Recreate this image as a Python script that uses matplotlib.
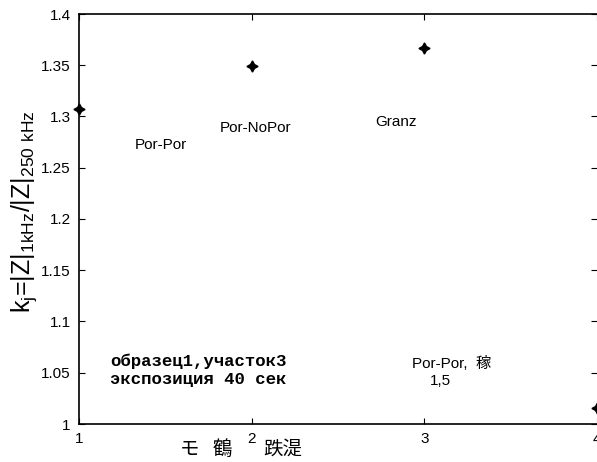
import matplotlib
matplotlib.use("Agg")
import matplotlib.pyplot as plt

plt.rcParams['font.family'] = ['Liberation Sans', 'Noto Sans CJK JP', 'DejaVu Sans']
plt.rcParams['mathtext.default'] = 'regular'

# measured k_j values for each sample zone
zone = [1, 2, 3, 4]
kj = [1.307, 1.349, 1.367, 1.016]

# text annotations placed inside the axes
notes = ["Por-Por", "Por-NoPor", "Granz"]
note_x = [1.475, 2.025, 2.835]
note_y = [1.272, 1.289, 1.295]

xticks = [1, 2, 3, 4]
yticks = [1.0, 1.05, 1.1, 1.15, 1.2, 1.25, 1.3, 1.35, 1.4]
ytick_labels = ["1", "1.05", "1.1", "1.15", "1.2", "1.25", "1.3", "1.35", "1.4"]

W, H = 597, 462
fig = plt.figure(figsize=(W / 100, H / 100), dpi=100)
ax = fig.add_axes([79 / W, 38 / H, 518 / W, 410 / H])

ax.plot(zone, kj, linestyle='none', marker=(4, 1, 0), markersize=8,
        color='black', clip_on=False)

for s, x, y in zip(notes, note_x, note_y):
    ax.text(x, y, s, ha='center', va='center', fontsize=11)

ax.text(3.157, 1.0595, "Por-Por,  稼", ha='center', va='center', fontsize=11)
ax.text(3.096, 1.042, "1,5", ha='center', va='center', fontsize=11)

mono = dict(ha='left', va='center', fontsize=12.5, family='Liberation Mono',
            fontweight='bold')
ax.text(1.18, 1.061, "образец1,участок3", **mono)
ax.text(1.18, 1.043, "экспозиция 40 сек", **mono)

ax.set_xlim(1, 4)
ax.set_ylim(1.0, 1.4)
ax.set_xticks(xticks)
ax.set_xticklabels([str(t) for t in xticks])
ax.set_yticks(yticks)
ax.set_yticklabels(ytick_labels)
ax.tick_params(direction='in', length=4, labelsize=11, top=True, right=True,
               width=0.8, pad=6)
ax.spines['right'].set_visible(False)
for side in ['left', 'bottom', 'top']:
    ax.spines[side].set_linewidth(1.2)

# x label is drawn as separate glyph groups
cjk = ['Noto Sans CJK JP', 'DejaVu Sans']
for s, px in zip(["モ", "鶴", "跌湜"], [190, 222, 283]):
    fig.text(px / W, 1 - 449 / H, s, ha='center', va='center',
             fontsize=14, family=cjk)

ax.set_ylabel(r"k$_j$=|Z|$_{1kHz}$/|Z|$_{250\ kHz}$", fontsize=18,
              va='center')
ax.yaxis.set_label_coords(-(79 - 24) / 518, (424 - 212) / 410)

fig.savefig("out.png", dpi=100)
